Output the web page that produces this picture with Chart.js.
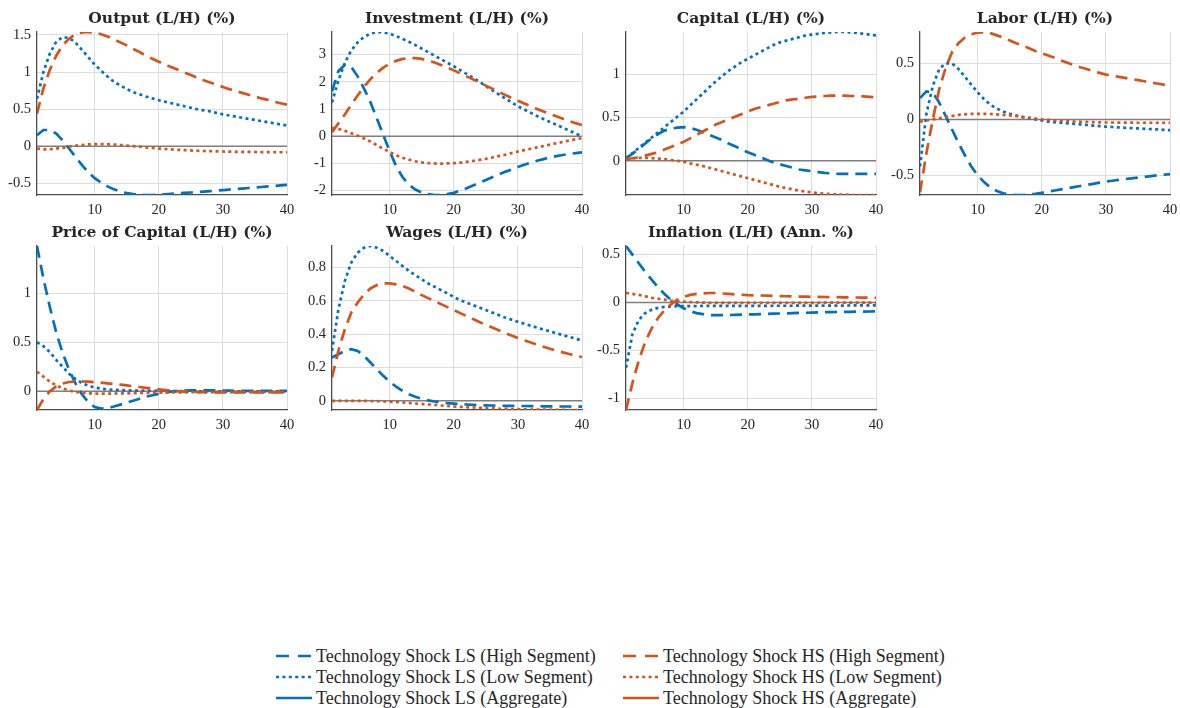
<!DOCTYPE html>
<html>
<head>
<meta charset="utf-8">
<title>Technology shocks: L/H responses</title>
<script src="https://cdn.jsdelivr.net/npm/chart.js@4/dist/chart.umd.min.js"></script>
<style>
  body { margin: 0; background: #fff; }
  #figure { position: relative; width: 1180px; height: 708px; overflow: hidden; background: #fff; }
  .panel { position: absolute; }
  .legend-item { position: absolute; height: 20px; display: flex; align-items: center; white-space: nowrap;
    font-family: 'Liberation Serif', serif; font-size: 18px; color: #262626; }
  .legend-item svg { margin-right: 3px; }
</style>
</head>
<body>
<div id="figure"></div>
<script>
var periods = [1, 2, 3, 4, 5, 6, 7, 8, 9, 10, 11, 12, 13, 14, 15, 16, 17, 18, 19, 20,
  21, 22, 23, 24, 25, 26, 27, 28, 29, 30, 31, 32, 33, 34, 35, 36, 37, 38, 39, 40];
var periodTicks = [10, 20, 30, 40];

// Output
var outputLsHigh = [0.15, 0.22, 0.22, 0.17, 0.08, -0.03, -0.14, -0.25, -0.35, -0.43, -0.49, -0.54, -0.58, -0.61, -0.63, -0.645, -0.652, -0.656, -0.656, -0.652,
  -0.646, -0.64, -0.634, -0.628, -0.622, -0.616, -0.61, -0.604, -0.597, -0.59, -0.583, -0.576, -0.569, -0.562, -0.555, -0.548, -0.541, -0.534, -0.527, -0.52];
var outputLsLow = [0.64, 1.0, 1.25, 1.41, 1.47, 1.46, 1.4, 1.3, 1.2, 1.1, 1.02, 0.94, 0.87, 0.82, 0.77, 0.73, 0.7, 0.67, 0.645, 0.62,
  0.6, 0.58, 0.56, 0.54, 0.52, 0.5, 0.485, 0.47, 0.45, 0.43, 0.415, 0.4, 0.385, 0.37, 0.355, 0.34, 0.325, 0.31, 0.295, 0.28];
var outputHsHigh = [0.44, 0.78, 1.03, 1.22, 1.36, 1.45, 1.51, 1.535, 1.54, 1.53, 1.51, 1.48, 1.44, 1.4, 1.36, 1.31, 1.27, 1.22, 1.18, 1.14,
  1.1, 1.065, 1.03, 0.995, 0.96, 0.925, 0.89, 0.86, 0.83, 0.8, 0.77, 0.745, 0.72, 0.695, 0.67, 0.645, 0.625, 0.6, 0.58, 0.56];
var outputHsLow = [-0.03, -0.04, -0.04, -0.03, -0.02, -0.005, 0.008, 0.018, 0.025, 0.03, 0.03, 0.028, 0.024, 0.018, 0.01, 0.002, -0.006, -0.014, -0.022, -0.03,
  -0.036, -0.042, -0.047, -0.052, -0.056, -0.06, -0.063, -0.066, -0.068, -0.07, -0.072, -0.074, -0.075, -0.076, -0.077, -0.078, -0.079, -0.08, -0.08, -0.08];

// Investment
var invLsHigh = [1.65, 2.4, 2.62, 2.55, 2.2, 1.75, 1.25, 0.65, 0.05, -0.55, -1.1, -1.5, -1.78, -1.96, -2.07, -2.13, -2.16, -2.16, -2.13, -2.08,
  -2.0, -1.91, -1.81, -1.71, -1.61, -1.51, -1.41, -1.31, -1.22, -1.13, -1.05, -0.97, -0.9, -0.84, -0.78, -0.73, -0.69, -0.65, -0.62, -0.59];
var invLsLow = [1.24, 2.05, 2.7, 3.15, 3.45, 3.65, 3.77, 3.83, 3.82, 3.77, 3.68, 3.58, 3.47, 3.35, 3.22, 3.09, 2.96, 2.83, 2.7, 2.57,
  2.43, 2.29, 2.15, 2.0, 1.84, 1.69, 1.54, 1.39, 1.25, 1.1, 0.98, 0.86, 0.74, 0.63, 0.52, 0.42, 0.31, 0.21, 0.1, 0.0];
var invHsHigh = [0.15, 0.48, 0.8, 1.15, 1.5, 1.82, 2.1, 2.33, 2.52, 2.67, 2.77, 2.84, 2.87, 2.87, 2.84, 2.78, 2.71, 2.62, 2.52, 2.42,
  2.31, 2.2, 2.09, 1.97, 1.86, 1.75, 1.63, 1.52, 1.41, 1.3, 1.2, 1.1, 1.0, 0.91, 0.82, 0.73, 0.64, 0.56, 0.48, 0.41];
var invHsLow = [0.3, 0.27, 0.2, 0.11, 0.02, -0.08, -0.2, -0.33, -0.46, -0.58, -0.7, -0.79, -0.86, -0.92, -0.96, -0.99, -1.0, -1.01, -1.0, -0.99,
  -0.97, -0.94, -0.91, -0.87, -0.83, -0.78, -0.73, -0.68, -0.62, -0.56, -0.51, -0.46, -0.41, -0.36, -0.31, -0.26, -0.21, -0.16, -0.11, -0.07];

// Capital
var capLsHigh = [0.03, 0.08, 0.14, 0.2, 0.26, 0.31, 0.35, 0.37, 0.385, 0.39, 0.38, 0.36, 0.33, 0.3, 0.27, 0.24, 0.2, 0.17, 0.13, 0.1,
  0.07, 0.04, 0.01, -0.02, -0.04, -0.06, -0.08, -0.1, -0.11, -0.12, -0.13, -0.14, -0.145, -0.15, -0.15, -0.15, -0.15, -0.15, -0.15, -0.15];
var capLsLow = [0.03, 0.09, 0.15, 0.21, 0.27, 0.33, 0.39, 0.45, 0.51, 0.57, 0.64, 0.71, 0.78, 0.85, 0.92, 0.98, 1.04, 1.09, 1.14, 1.18,
  1.22, 1.26, 1.3, 1.34, 1.37, 1.39, 1.41, 1.43, 1.45, 1.46, 1.47, 1.48, 1.485, 1.49, 1.49, 1.485, 1.48, 1.47, 1.46, 1.45];
var capHsHigh = [0.02, 0.03, 0.04, 0.06, 0.08, 0.1, 0.13, 0.16, 0.19, 0.22, 0.26, 0.3, 0.34, 0.38, 0.42, 0.45, 0.48, 0.51, 0.54, 0.57,
  0.6, 0.62, 0.64, 0.66, 0.68, 0.7, 0.71, 0.72, 0.73, 0.74, 0.745, 0.75, 0.755, 0.755, 0.755, 0.75, 0.75, 0.745, 0.74, 0.735];
var capHsLow = [0.02, 0.03, 0.035, 0.035, 0.03, 0.025, 0.02, 0.01, 0.0, -0.01, -0.03, -0.045, -0.06, -0.08, -0.1, -0.12, -0.14, -0.16, -0.18, -0.2,
  -0.22, -0.24, -0.26, -0.28, -0.3, -0.315, -0.33, -0.345, -0.355, -0.365, -0.375, -0.38, -0.385, -0.39, -0.39, -0.395, -0.395, -0.395, -0.395, -0.395];

// Labor
var labLsHigh = [0.19, 0.25, 0.24, 0.15, 0.03, -0.09, -0.21, -0.32, -0.42, -0.5, -0.56, -0.61, -0.64, -0.66, -0.67, -0.675, -0.675, -0.67, -0.665, -0.655,
  -0.645, -0.635, -0.625, -0.615, -0.605, -0.595, -0.585, -0.575, -0.565, -0.555, -0.548, -0.54, -0.533, -0.526, -0.52, -0.513, -0.507, -0.5, -0.494, -0.488];
var labLsLow = [-0.42, 0.05, 0.3, 0.45, 0.5, 0.5, 0.45, 0.38, 0.31, 0.24, 0.18, 0.13, 0.095, 0.07, 0.05, 0.035, 0.02, 0.01, 0.0, -0.01,
  -0.02, -0.025, -0.03, -0.035, -0.04, -0.045, -0.05, -0.055, -0.06, -0.065, -0.068, -0.072, -0.075, -0.078, -0.081, -0.084, -0.087, -0.09, -0.093, -0.096];
var labHsHigh = [-0.65, -0.3, 0.0, 0.27, 0.46, 0.6, 0.68, 0.73, 0.76, 0.775, 0.78, 0.77, 0.75, 0.73, 0.705, 0.68, 0.66, 0.635, 0.61, 0.59,
  0.57, 0.55, 0.525, 0.505, 0.485, 0.465, 0.45, 0.43, 0.415, 0.4, 0.39, 0.38, 0.37, 0.36, 0.35, 0.34, 0.33, 0.32, 0.31, 0.3];
var labHsLow = [-0.02, -0.01, 0.0, 0.01, 0.02, 0.03, 0.04, 0.045, 0.05, 0.05, 0.05, 0.048, 0.045, 0.04, 0.035, 0.03, 0.022, 0.015, 0.008, 0.0,
  -0.005, -0.01, -0.013, -0.016, -0.019, -0.021, -0.023, -0.025, -0.027, -0.028, -0.028, -0.029, -0.029, -0.029, -0.03, -0.03, -0.03, -0.03, -0.03, -0.03];

// Price of capital
var pkLsHigh = [1.48, 1.15, 0.86, 0.6, 0.39, 0.22, 0.08, -0.03, -0.11, -0.16, -0.175, -0.17, -0.155, -0.135, -0.115, -0.095, -0.075, -0.055, -0.04, -0.025,
  -0.012, -0.003, 0.003, 0.007, 0.009, 0.01, 0.01, 0.01, 0.009, 0.008, 0.007, 0.006, 0.006, 0.005, 0.005, 0.005, 0.004, 0.004, 0.004, 0.004];
var pkLsLow = [0.5, 0.46, 0.4, 0.32, 0.25, 0.18, 0.125, 0.085, 0.057, 0.038, 0.027, 0.02, 0.015, 0.012, 0.01, 0.008, 0.007, 0.006, 0.005, 0.004,
  0.003, 0.003, 0.002, 0.002, 0.001, 0.001, 0.001, 0, 0, 0, 0, 0, 0, 0, 0, 0, 0, 0, 0, 0];
var pkHsHigh = [-0.19, -0.08, 0.0, 0.05, 0.08, 0.095, 0.1, 0.1, 0.098, 0.094, 0.088, 0.082, 0.075, 0.068, 0.06, 0.052, 0.044, 0.036, 0.028, 0.02,
  0.013, 0.007, 0.002, -0.002, -0.005, -0.007, -0.009, -0.01, -0.011, -0.011, -0.011, -0.011, -0.011, -0.01, -0.01, -0.01, -0.01, -0.01, -0.01, -0.01];
var pkHsLow = [0.2, 0.15, 0.1, 0.06, 0.03, 0.008, -0.006, -0.015, -0.02, -0.022, -0.023, -0.023, -0.022, -0.021, -0.02, -0.018, -0.017, -0.015, -0.014, -0.013,
  -0.012, -0.011, -0.01, -0.01, -0.009, -0.009, -0.009, -0.008, -0.008, -0.008, -0.008, -0.008, -0.008, -0.008, -0.008, -0.008, -0.008, -0.008, -0.008, -0.008];

// Wages
var wageLsHigh = [0.26, 0.28, 0.3, 0.31, 0.3, 0.27, 0.23, 0.19, 0.15, 0.115, 0.085, 0.06, 0.04, 0.025, 0.012, 0.003, -0.004, -0.01, -0.014, -0.017,
  -0.02, -0.022, -0.024, -0.026, -0.027, -0.028, -0.029, -0.03, -0.03, -0.031, -0.031, -0.032, -0.032, -0.033, -0.033, -0.034, -0.034, -0.034, -0.035, -0.035];
var wageLsLow = [0.3, 0.55, 0.72, 0.83, 0.89, 0.92, 0.93, 0.92, 0.9, 0.87, 0.84, 0.81, 0.78, 0.755, 0.73, 0.705, 0.685, 0.665, 0.645, 0.624,
  0.605, 0.59, 0.575, 0.56, 0.545, 0.53, 0.515, 0.5, 0.488, 0.475, 0.463, 0.451, 0.44, 0.428, 0.417, 0.406, 0.395, 0.384, 0.373, 0.362];
var wageHsHigh = [0.14, 0.3, 0.43, 0.53, 0.59, 0.64, 0.675, 0.695, 0.705, 0.705, 0.7, 0.69, 0.675, 0.655, 0.635, 0.617, 0.599, 0.581, 0.563, 0.545,
  0.527, 0.509, 0.491, 0.473, 0.456, 0.44, 0.424, 0.408, 0.392, 0.377, 0.363, 0.35, 0.337, 0.325, 0.313, 0.302, 0.291, 0.281, 0.272, 0.263];
var wageHsLow = [0, 0, 0, 0, 0, 0, -0.001, -0.002, -0.003, -0.005, -0.007, -0.01, -0.013, -0.016, -0.019, -0.022, -0.025, -0.028, -0.031, -0.034,
  -0.036, -0.038, -0.04, -0.042, -0.044, -0.045, -0.047, -0.048, -0.049, -0.05, -0.051, -0.052, -0.052, -0.053, -0.053, -0.054, -0.054, -0.055, -0.055, -0.055];

// Inflation
var inflLsHigh = [0.59, 0.5, 0.41, 0.32, 0.24, 0.16, 0.09, 0.03, -0.02, -0.06, -0.09, -0.11, -0.12, -0.13, -0.13, -0.13, -0.13, -0.128, -0.126, -0.124,
  -0.122, -0.12, -0.118, -0.116, -0.114, -0.112, -0.11, -0.108, -0.106, -0.104, -0.102, -0.1, -0.099, -0.098, -0.097, -0.096, -0.095, -0.094, -0.093, -0.092];
var inflLsLow = [-0.68, -0.33, -0.18, -0.11, -0.075, -0.055, -0.045, -0.04, -0.038, -0.037, -0.036, -0.036, -0.035, -0.035, -0.035, -0.035, -0.035, -0.035, -0.035, -0.034,
  -0.034, -0.034, -0.034, -0.033, -0.033, -0.033, -0.033, -0.032, -0.032, -0.032, -0.032, -0.031, -0.031, -0.031, -0.031, -0.03, -0.03, -0.03, -0.03, -0.03];
var inflHsHigh = [-1.12, -0.84, -0.6, -0.41, -0.27, -0.16, -0.08, -0.02, 0.03, 0.06, 0.08, 0.09, 0.095, 0.1, 0.1, 0.095, 0.09, 0.086, 0.082, 0.078,
  0.076, 0.074, 0.072, 0.07, 0.068, 0.066, 0.065, 0.063, 0.062, 0.06, 0.059, 0.058, 0.057, 0.056, 0.055, 0.054, 0.053, 0.052, 0.051, 0.05];
var inflHsLow = [0.1, 0.09, 0.08, 0.065, 0.05, 0.04, 0.03, 0.02, 0.015, 0.01, 0.006, 0.003, 0.0, -0.002, -0.003, -0.004, -0.004, -0.004, -0.004, -0.004,
  -0.004, -0.004, -0.003, -0.003, -0.003, -0.003, -0.002, -0.002, -0.002, -0.002, -0.002, -0.001, -0.001, -0.001, -0.001, -0.001, 0, 0, 0, 0];

var legendLabels = [
  'Technology Shock LS (High Segment)', 'Technology Shock LS (Low Segment)', 'Technology Shock LS (Aggregate)',
  'Technology Shock HS (High Segment)', 'Technology Shock HS (Low Segment)', 'Technology Shock HS (Aggregate)'
];

var BLUE = '#0072BD';
var ORANGE = '#D95319';
var DASHED = [12, 7];
var DOTTED = [3, 3.4];

// left/top of each plot area in the 4 x 2 grid
var panels = [
  { title: 'Output (L/H) (%)', series: [outputLsHigh, outputLsLow, outputHsHigh, outputHsLow], yTicks: [-0.5, 0, 0.5, 1, 1.5], left: 37, top: 32, height: 163 },
  { title: 'Investment (L/H) (%)', series: [invLsHigh, invLsLow, invHsHigh, invHsLow], yTicks: [-2, -1, 0, 1, 2, 3], left: 332, top: 32, height: 163 },
  { title: 'Capital (L/H) (%)', series: [capLsHigh, capLsLow, capHsHigh, capHsLow], yTicks: [0, 0.5, 1], left: 626, top: 32, height: 163 },
  { title: 'Labor (L/H) (%)', series: [labLsHigh, labLsLow, labHsHigh, labHsLow], yTicks: [-0.5, 0, 0.5], left: 920, top: 32, height: 163 },
  { title: 'Price of Capital (L/H) (%)', series: [pkLsHigh, pkLsLow, pkHsHigh, pkHsLow], yTicks: [0, 0.5, 1], left: 37, top: 246, height: 164 },
  { title: 'Wages (L/H) (%)', series: [wageLsHigh, wageLsLow, wageHsHigh, wageHsLow], yTicks: [0, 0.2, 0.4, 0.6, 0.8], left: 332, top: 246, height: 164 },
  { title: 'Inflation (L/H) (Ann. %)', series: [inflLsHigh, inflLsLow, inflHsHigh, inflHsLow], yTicks: [-1, -0.5, 0, 0.5], left: 626, top: 246, height: 164 }
];

var seriesStyles = [
  { color: BLUE, dash: DASHED, order: 1 },
  { color: BLUE, dash: DOTTED, order: 1 },
  { color: ORANGE, dash: DASHED, order: 0 },
  { color: ORANGE, dash: DOTTED, order: 0 }
];

var PLOT_W = 250;
var AXIS_W = 40;
var TITLE_H = 32;
var XAXIS_H = 26;

Chart.defaults.font.family = "'Liberation Serif', serif";
Chart.defaults.font.size = 14.5;
Chart.defaults.color = '#262626';

// gray reference line at y = 0, under the series
var zeroLine = {
  id: 'zeroLine',
  beforeDatasetsDraw: function(chart) {
    var area = chart.chartArea;
    var y = chart.scales.y.getPixelForValue(0);
    var ctx = chart.ctx;
    ctx.save();
    ctx.strokeStyle = '#7f7f7f';
    ctx.lineWidth = 1.5;
    ctx.beginPath();
    ctx.moveTo(area.left, y);
    ctx.lineTo(area.right, y);
    ctx.stroke();
    ctx.restore();
  }
};

// title centred over the plot area rather than over the whole canvas
var panelTitle = {
  id: 'panelTitle',
  afterDraw: function(chart, args, opts) {
    var area = chart.chartArea;
    var ctx = chart.ctx;
    ctx.save();
    ctx.fillStyle = '#262626';
    ctx.font = 'bold 15.5px "DejaVu Serif", serif';
    ctx.textAlign = 'center';
    ctx.textBaseline = 'middle';
    ctx.fillText(opts.text, (area.left + area.right) / 2, area.top - 13);
    ctx.restore();
  }
};

function tickList(values) {
  return values.map(function(v) { return { value: v }; });
}

function makePanel(fig, panel) {
  var canvas = document.createElement('canvas');
  var w = PLOT_W + 2 * AXIS_W;
  var h = TITLE_H + panel.height + XAXIS_H;
  canvas.className = 'panel';
  canvas.width = w;
  canvas.height = h;
  canvas.style.width = w + 'px';
  canvas.style.height = h + 'px';
  canvas.style.left = (panel.left - AXIS_W) + 'px';
  canvas.style.top = (panel.top - TITLE_H) + 'px';
  fig.appendChild(canvas);

  // axis tight: limits follow the data
  var all = [].concat.apply([], panel.series);
  var lo = Math.min.apply(null, all);
  var hi = Math.max.apply(null, all);

  var datasets = panel.series.map(function(values, i) {
    var st = seriesStyles[i];
    return {
      data: values,
      borderColor: st.color,
      borderDash: st.dash,
      borderWidth: 2.7,
      borderCapStyle: 'butt',
      pointRadius: 0,
      tension: 0,
      fill: false,
      order: st.order
    };
  });

  return new Chart(canvas, {
    type: 'line',
    data: { labels: periods, datasets: datasets },
    plugins: [zeroLine, panelTitle],
    options: {
      responsive: false,
      animation: false,
      events: [],
      layout: { padding: { left: 0, right: AXIS_W, top: TITLE_H, bottom: 0 } },
      scales: {
        x: {
          type: 'linear',
          min: 1,
          max: 40,
          afterBuildTicks: function(s) { s.ticks = tickList(periodTicks); },
          afterFit: function(s) { s.height = XAXIS_H; },
          grid: { color: '#dcdcdc', lineWidth: 1, drawTicks: false },
          border: { display: true, color: '#4d4d4d', width: 1.3 },
          ticks: { padding: 6, maxRotation: 0, autoSkip: false }
        },
        y: {
          type: 'linear',
          min: lo,
          max: hi,
          afterBuildTicks: function(s) { s.ticks = tickList(panel.yTicks); },
          afterFit: function(s) { s.width = AXIS_W; },
          grid: { color: '#dcdcdc', lineWidth: 1, drawTicks: false },
          border: { display: true, color: '#4d4d4d', width: 1.3 },
          ticks: { padding: 6, autoSkip: false, callback: function(v) { return String(v); } }
        }
      },
      plugins: {
        legend: { display: false },
        tooltip: { enabled: false },
        title: { display: false },
        panelTitle: { text: panel.title }
      }
    }
  });
}

function legendSample(color, dash) {
  var ns = 'http://www.w3.org/2000/svg';
  var svg = document.createElementNS(ns, 'svg');
  svg.setAttribute('width', '37');
  svg.setAttribute('height', '20');
  var line = document.createElementNS(ns, 'line');
  line.setAttribute('x1', '0');
  line.setAttribute('x2', '36');
  line.setAttribute('y1', '10');
  line.setAttribute('y2', '10');
  line.setAttribute('stroke', color);
  line.setAttribute('stroke-width', '2.7');
  if (dash) line.setAttribute('stroke-dasharray', dash.join(' '));
  svg.appendChild(line);
  return svg;
}

function makeLegend(fig) {
  var cols = [276, 623];
  var rows = [656, 677, 698];
  var styles = [
    [BLUE, [13, 9]], [BLUE, DOTTED], [BLUE, null],
    [ORANGE, [13, 9]], [ORANGE, DOTTED], [ORANGE, null]
  ];
  for (var i = 0; i < legendLabels.length; i++) {
    var item = document.createElement('div');
    item.className = 'legend-item';
    item.style.left = cols[Math.floor(i / 3)] + 'px';
    item.style.top = (rows[i % 3] - 10) + 'px';
    item.appendChild(legendSample(styles[i][0], styles[i][1]));
    var label = document.createElement('span');
    label.textContent = legendLabels[i];
    item.appendChild(label);
    fig.appendChild(item);
  }
}

var fig = document.getElementById('figure');
panels.forEach(function(p) { makePanel(fig, p); });
makeLegend(fig);
</script>
</body>
</html>
